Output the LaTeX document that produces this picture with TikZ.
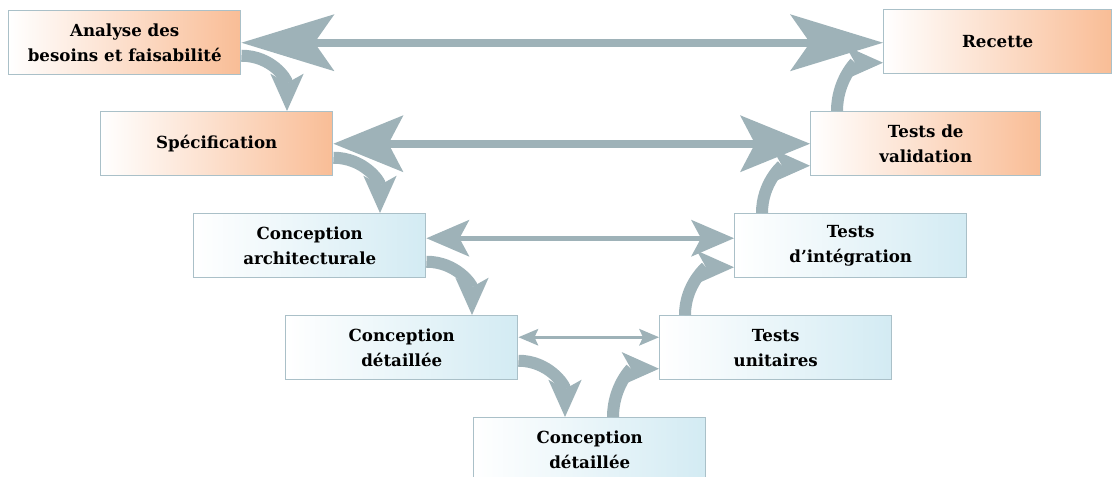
\documentclass[tikz,border=0pt]{standalone}
\usepackage{fontspec}
\setmainfont{DejaVu Serif}
\usetikzlibrary{arrows.meta,calc}

\definecolor{arrowgray}{RGB}{158,178,184}
\definecolor{boxline}{RGB}{170,192,200}
\definecolor{peach}{RGB}{249,189,150}
\definecolor{skyblue}{RGB}{211,235,243}

\begin{document}
\begin{tikzpicture}[x=0.75pt, y=-0.75pt,
    phase/.style={draw=boxline, line width=1.1pt, anchor=north west, minimum width=174pt, minimum height=48pt, inner sep=0pt, align=center, font=\fontsize{12.5}{18.75}\selectfont\bfseries},
    orangebox/.style={phase, left color=white, right color=peach},
    bluebox/.style={phase, left color=white, right color=skyblue},
    link/.style n args={4}{draw=arrowgray, line width=#1, arrows={Stealth[length=#2, width=#3, inset=#4, line width=0pt]-Stealth[length=#2, width=#3, inset=#4, line width=0pt]}},
    flow/.style={draw=arrowgray, line width=9pt, arrows={-Stealth[length=28pt, width=25pt, inset=7pt, line width=0pt]}}]

        \useasboundingbox (0,0) rectangle (1112,477);

        % Left branch
        \node at (8,10) [orangebox] (analyse) {Analyse des\\besoins et faisabilité};
        \node at (100,111) [orangebox] (spec) {Spécification};
        \node at (193,213) [bluebox] (archi) {Conception\\architecturale};
        \node at (285,315) [bluebox] (detail) {Conception\\détaillée};
        \node at (473,417) [bluebox] (code) {Conception\\détaillée};

        % Right branch
        \node at (659,315) [bluebox] (unit) {Tests\\unitaires};
        \node at (734,213) [bluebox] (integ) {Tests\\d’intégration};
        \node at (810,111) [orangebox, minimum width=172.5pt] (valid) {Tests de\\validation};
        \node at (883,9) [orangebox, minimum width=171pt] (recette) {Recette};

        % Curved arrows
        \draw[flow] ($(analyse.east)+(0,13)$) .. controls +(30,0) and +(0,-32) .. ($(spec.north west)+(187,0)$);
        \draw[flow] ($(spec.east)+(0,14)$) .. controls +(30,0) and +(0,-32) .. ($(archi.north west)+(187,0)$);
        \draw[flow] ($(archi.east)+(0,16)$) .. controls +(30,0) and +(0,-30) .. ($(detail.north west)+(187,0)$);
        \draw[flow] ($(detail.east)+(0,13)$) .. controls +(30,0) and +(0,-32) .. ($(code.north west)+(92,0)$);
        \draw[flow] ($(code.north west)+(140,0)$) .. controls +(0,-30) and +(-28,0) .. ($(unit.west)+(0,21)$);
        \draw[flow] ($(unit.north west)+(26,0)$) .. controls +(0,-30) and +(-28,0) .. ($(integ.west)+(0,21.5)$);
        \draw[flow] ($(integ.north west)+(28,0)$) .. controls +(0,-30) and +(-28,0) .. ($(valid.west)+(0,22)$);
        \draw[flow] ($(valid.north west)+(27,0)$) .. controls +(0,-30) and +(-28,0) .. ($(recette.west)+(0,21)$);

        % Double arrows
        \coordinate (r3) at ($(archi.east)+(0,-7.5)$);
        \coordinate (r4) at ($(detail.east)+(0,-10.5)$);
        \draw[link={6pt}{69.75pt}{42.75pt}{15pt}] (analyse.east) -- (analyse.east -| recette.west);
        \draw[link={6pt}{52.5pt}{42.75pt}{11.25pt}] (spec.east) -- (spec.east -| valid.west);
        \draw[link={3.75pt}{32.25pt}{27.75pt}{7.5pt}] (r3) -- (r3 -| integ.west);
        \draw[link={1.9pt}{15pt}{12.75pt}{3pt}] (r4) -- (r4 -| unit.west);

\end{tikzpicture}
\end{document}
